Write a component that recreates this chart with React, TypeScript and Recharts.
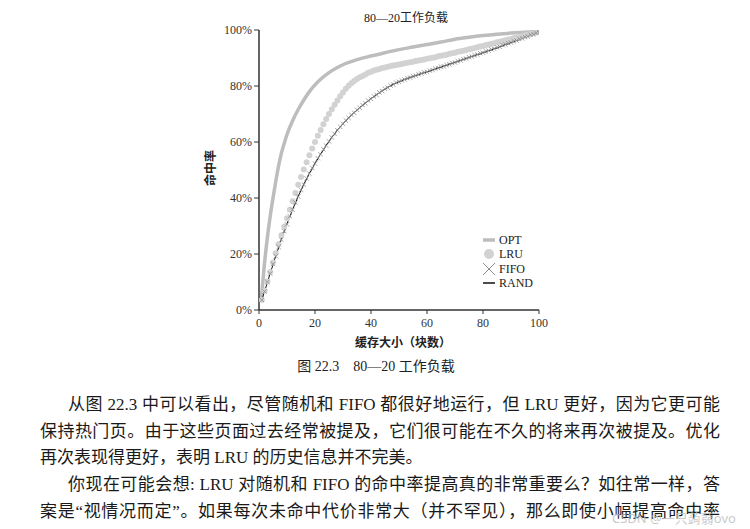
import React from "react";
import { LineChart, Line, XAxis, YAxis, Legend } from "recharts";

const SERIF = '"Liberation Serif", "Times New Roman", "Noto Sans CJK SC", serif';

// cache size (blocks)
const cacheSizes = [
  1, 2, 3, 4, 5, 6, 7, 8, 9, 10, 11, 12, 13, 14, 15, 16, 17, 18, 19, 20,
  21, 22, 23, 24, 25, 26, 27, 28, 29, 30, 31, 32, 33, 34, 35, 36, 37, 38, 39, 40,
  41, 42, 43, 44, 45, 46, 47, 48, 49, 50, 51, 52, 53, 54, 55, 56, 57, 58, 59, 60,
  61, 62, 63, 64, 65, 66, 67, 68, 69, 70, 71, 72, 73, 74, 75, 76, 77, 78, 79, 80,
  81, 82, 83, 84, 85, 86, 87, 88, 89, 90, 91, 92, 93, 94, 95, 96, 97, 98, 99, 100,
];

// hit rate (%)
const randHits = [
  3.4, 6.8, 9.7, 13.2, 16.1, 19.5, 22.2, 25.4, 27.9, 30.9, 33.2, 36.0, 38.1, 40.7, 42.6, 45.0, 46.7, 48.9, 50.4, 52.5,
  53.9, 55.8, 57.1, 58.9, 60.1, 61.8, 62.8, 64.4, 65.3, 66.6, 67.5, 68.7, 69.5, 70.6, 71.3, 72.4, 73.0, 74.0, 74.6, 75.6,
  76.1, 77.0, 77.5, 78.4, 78.8, 79.6, 80.0, 80.7, 81.0, 81.6, 81.8, 82.4, 82.6, 83.1, 83.3, 83.8, 84.0, 84.5, 84.7, 85.1,
  85.3, 85.8, 86.0, 86.5, 86.6, 87.2, 87.3, 87.9, 88.0, 88.5, 88.7, 89.2, 89.4, 89.9, 90.1, 90.6, 90.8, 91.3, 91.4, 92.0,
  92.1, 92.7, 92.8, 93.4, 93.5, 94.1, 94.3, 94.9, 95.0, 95.6, 95.8, 96.3, 96.5, 97.1, 97.3, 97.8, 98.0, 98.6, 98.8, 99.3,
];

const fifoHits = [
  3.6, 6.6, 10.0, 13.0, 16.4, 19.2, 22.5, 25.1, 28.2, 30.6, 33.5, 35.8, 38.4, 40.5, 42.9, 44.8, 47.0, 48.7, 50.7, 52.3,
  54.2, 55.6, 57.4, 58.7, 60.2, 61.6, 62.9, 64.2, 65.4, 66.5, 67.7, 68.6, 69.7, 70.4, 71.5, 72.2, 73.2, 73.8, 74.8, 75.4,
  76.3, 76.8, 77.7, 78.2, 79.0, 79.4, 80.2, 80.5, 81.2, 81.5, 82.0, 82.3, 82.8, 83.0, 83.5, 83.7, 84.2, 84.4, 84.9, 85.0,
  85.5, 85.7, 86.2, 86.4, 86.9, 87.0, 87.5, 87.7, 88.2, 88.4, 88.9, 89.1, 89.6, 89.8, 90.3, 90.5, 91.0, 91.2, 91.7, 91.9,
  92.4, 92.6, 93.1, 93.3, 93.8, 94.0, 94.6, 94.8, 95.3, 95.5, 96.0, 96.2, 96.8, 97.0, 97.5, 97.7, 98.3, 98.5, 99.0, 99.2,
];

const lruHits = [
  3.6, 6.9, 10.2, 13.6, 17.0, 20.3, 23.5, 26.7, 29.8, 32.8, 35.8, 38.8, 41.8, 44.7, 47.5, 50.2, 52.8, 55.3, 57.7, 60.0,
  62.2, 64.3, 66.3, 68.2, 70.0, 71.7, 73.3, 74.8, 76.3, 77.7, 79.0, 80.1, 81.0, 81.8, 82.5, 83.1, 83.6, 84.1, 84.7, 85.1,
  85.5, 85.8, 86.1, 86.4, 86.6, 86.9, 87.1, 87.3, 87.5, 87.7, 87.9, 88.1, 88.3, 88.5, 88.7, 88.9, 89.1, 89.3, 89.5, 89.7,
  89.9, 90.1, 90.3, 90.6, 90.8, 91.0, 91.2, 91.5, 91.7, 91.9, 92.2, 92.4, 92.6, 92.9, 93.1, 93.3, 93.6, 93.8, 94.1, 94.3,
  94.6, 94.8, 95.1, 95.3, 95.6, 95.8, 96.1, 96.3, 96.6, 96.8, 97.1, 97.3, 97.6, 97.8, 98.1, 98.3, 98.6, 98.8, 99.1, 99.3,
];

const optSizes = [0.7, 1, 2, 3, 4, 5, 6, 7, 8, 9, 10, 12, 14, 16, 18, 20, 22, 25, 28, 30, 35, 40, 45, 50, 55, 60, 65, 70, 75, 80, 85, 90, 95, 100];
const optHits = [3.5, 6, 17, 26, 33.5, 40, 46, 51.5, 56, 59.5, 62.7, 67.6, 71.6, 75, 78, 80.4, 82.4, 84.8, 86.6, 87.6, 89.4, 90.7, 91.9, 93, 93.9, 94.8, 95.7, 96.7, 97.4, 98.0, 98.5, 98.9, 99.2, 99.5];

const xTicks = [0, 20, 40, 60, 80, 100];
const yTicks = [0, 20, 40, 60, 80, 100];

const toPoints = (xs: number[], ys: number[]) => xs.map((x, i) => ({ x, y: ys[i] }));

const optData = toPoints(optSizes, optHits);
const lruData = toPoints(cacheSizes, lruHits);
const fifoData = toPoints(cacheSizes, fifoHits);
const randData = toPoints(cacheSizes, randHits);

const XMark = (props: any) => {
  const { cx, cy, index } = props;
  if (cx == null || cy == null) return <g key={index} />;
  const s = 2.2;
  return (
    <path
      key={index}
      d={`M${cx - s},${cy - s}L${cx + s},${cy + s}M${cx - s},${cy + s}L${cx + s},${cy - s}`}
      stroke="#8c8c8c"
      strokeWidth={0.8}
      fill="none"
    />
  );
};

const renderLegend = () => {
  const rows = [
    { name: "OPT", y: 8 },
    { name: "LRU", y: 22 },
    { name: "FIFO", y: 37 },
    { name: "RAND", y: 51 },
  ];
  return (
    <svg width={72} height={60} style={{ display: "block" }}>
      <line x1={3} x2={15} y1={rows[0].y} y2={rows[0].y} stroke="#bdbdbd" strokeWidth={3.5} />
      <circle cx={9} cy={rows[1].y} r={5} fill="#d2d2d2" />
      <path d={`M3,${rows[2].y - 6}L15,${rows[2].y + 6}M3,${rows[2].y + 6}L15,${rows[2].y - 6}`} stroke="#8c8c8c" strokeWidth={1} />
      <line x1={3} x2={15} y1={rows[3].y} y2={rows[3].y} stroke="#111" strokeWidth={1.5} />
      {rows.map((r) => (
        <text key={r.name} x={19} y={r.y} dominantBaseline="central" fontSize={12} fontFamily={SERIF} fill="#222">
          {r.name}
        </text>
      ))}
    </svg>
  );
};

const lineStyle: React.CSSProperties = {
  position: "absolute",
  fontFamily: SERIF,
  fontSize: 17,
  lineHeight: "26px",
  height: 26,
  color: "#1a1a1a",
  whiteSpace: "nowrap",
};

const justified: React.CSSProperties = { textAlign: "justify", textAlignLast: "justify" as any, whiteSpace: "normal", overflow: "hidden" };

export default function App() {
  return (
    <div style={{ position: "absolute", left: 0, top: 0, width: 750, height: 529, background: "#fff", overflow: "hidden" }}>
      <div style={{ position: "absolute", left: 346, top: 11, width: 120, textAlign: "center", fontFamily: SERIF, fontSize: 12, lineHeight: "14px", color: "#222" }}>
        80—20工作负载
      </div>

      <LineChart width={600} height={340} margin={{ top: 30, right: 61, left: 0, bottom: 0 }} style={{ position: "absolute", left: 0, top: 0 }}>
        <XAxis
          type="number"
          dataKey="x"
          domain={[0, 100]}
          ticks={xTicks}
          height={30}
          tickSize={4}
          tickMargin={4}
          allowDataOverflow
          axisLine={{ stroke: "#333", strokeWidth: 1.5 }}
          tickLine={{ stroke: "#333" }}
          tick={{ fill: "#333", fontSize: 12, fontFamily: SERIF }}
        />
        <YAxis
          type="number"
          domain={[0, 100]}
          ticks={yTicks}
          width={259}
          tickSize={5}
          tickMargin={2}
          allowDataOverflow
          tickFormatter={(v) => `${v}%`}
          axisLine={{ stroke: "#333", strokeWidth: 1.5 }}
          tickLine={{ stroke: "#333" }}
          tick={{ fill: "#333", fontSize: 12, fontFamily: SERIF }}
        />
        <Line data={optData} dataKey="y" type="monotone" stroke="#bdbdbd" strokeWidth={3.5} dot={false} activeDot={false} isAnimationActive={false} />
        <Line data={lruData} dataKey="y" stroke="none" dot={{ r: 3, fill: "#d2d2d2", stroke: "none" }} activeDot={false} isAnimationActive={false} />
        <Line data={fifoData} dataKey="y" stroke="none" dot={XMark} activeDot={false} isAnimationActive={false} />
        <Line data={randData} dataKey="y" type="linear" stroke="#111" strokeWidth={1} dot={false} activeDot={false} isAnimationActive={false} />
        <Legend
          layout="vertical"
          align="center"
          verticalAlign="middle"
          content={renderLegend}
          wrapperStyle={{ position: "absolute", left: 480, top: 232, width: 72, height: 60 }}
        />
      </LineChart>

      <div style={{ position: "absolute", left: 181, top: 161, width: 60, height: 14, transform: "rotate(-90deg)", textAlign: "center", fontFamily: SERIF, fontSize: 12, lineHeight: "14px", fontWeight: 700, color: "#222" }}>
        命中率
      </div>
      <div style={{ position: "absolute", left: 343, top: 336, width: 120, textAlign: "center", fontFamily: SERIF, fontSize: 12, lineHeight: "14px", fontWeight: 700, color: "#222" }}>
        缓存大小（块数）
      </div>
      <div style={{ position: "absolute", left: 276, top: 359, width: 200, textAlign: "center", fontFamily: SERIF, fontSize: 14, lineHeight: "16px", color: "#222", whiteSpace: "pre" }}>
        图 22.3    80—20 工作负载
      </div>

      <div style={{ ...lineStyle, ...justified, left: 68, top: 392, width: 652 }}>
        从图 22.3 中可以看出，尽管随机和 FIFO 都很好地运行，但 LRU 更好，因为它更可能
      </div>
      <div style={{ ...lineStyle, ...justified, left: 40, top: 419, width: 680 }}>
        保持热门页。由于这些页面过去经常被提及，它们很可能在不久的将来再次被提及。优化
      </div>
      <div style={{ ...lineStyle, left: 40, top: 445 }}>再次表现得更好，表明 LRU 的历史信息并不完美。</div>
      <div style={{ ...lineStyle, ...justified, left: 68, top: 472, width: 652 }}>
        你现在可能会想: LRU 对随机和 FIFO 的命中率提高真的非常重要么？如往常一样，答
      </div>
      <div style={{ ...lineStyle, ...justified, left: 40, top: 499, width: 680 }}>
        案是“视情况而定”。如果每次未命中代价非常大（并不罕见），那么即使小幅提高命中率
      </div>
      <div style={{ position: "absolute", left: 612, top: 509, fontFamily: '"Noto Sans", "Noto Sans CJK SC", sans-serif', fontSize: 13, lineHeight: "18px", color: "rgba(190,190,190,0.85)", whiteSpace: "nowrap" }}>
        CSDN @一只蒟蒻ovo
      </div>
    </div>
  );
}
